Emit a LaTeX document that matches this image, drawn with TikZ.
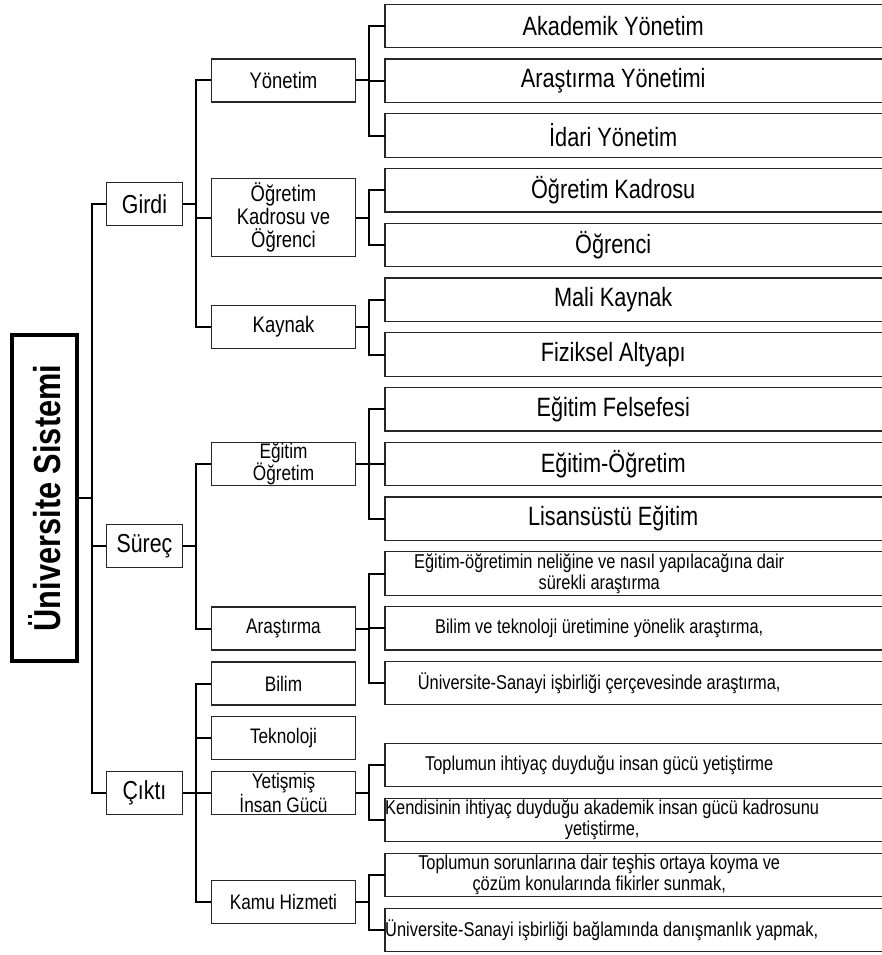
\documentclass[tikz,border=0pt]{standalone}
\usepackage{graphicx}
\usepackage{fontspec}
\setmainfont[FakeStretch=0.82]{Liberation Sans}
\usepackage{tikz}

\tikzset{
boxline/.style={draw=black!85,line width=1.2pt},
link/.style={draw=black,line width=2pt}
}

\begin{document}
\begin{tikzpicture}
[x=1pt,y=-1pt,
every node/.style={inner sep=0pt,align=center},
sysbox/.style={draw,line width=4pt,minimum width=65pt,minimum height=326pt,font=\fontsize{37.5}{40}\selectfont\bfseries},
stagebox/.style={boxline,minimum width=76pt,minimum height=43pt,font=\fontsize{26}{28}\selectfont},
partbox/.style={boxline,minimum width=144pt,minimum height=43pt,font=\fontsize{21}{22}\selectfont},
bigpart/.style={partbox,font=\fontsize{22.5}{23}\selectfont},
itembox/.style={anchor=west,minimum width=456pt,minimum height=43pt,font=\fontsize{26.5}{28}\selectfont},
notebox/.style={anchor=west,minimum width=428pt,minimum height=43pt,font=\fontsize{20}{21}\selectfont}]
\useasboundingbox (0,0) rectangle (881,955);
% root
\node [sysbox] (sys) at (44.5,498) {\rotatebox{90}{Üniversite Sistemi}};
% stages
\node [stagebox] (girdi) at (144.5,204) {Girdi};
\node [stagebox] (surec) at (144.5,546) {Süreç};
\node [stagebox] (cikti) at (144.5,793) {Çıktı};
% parts
\node [bigpart] (yonetim) at (283.5,80.5) {Yönetim};
\node [bigpart,minimum height=78pt] (kadro) at (283.5,217.5) {Öğretim\\Kadrosu ve\\Öğrenci};
\node [bigpart] (kaynak) at (283.5,327) {Kaynak};
\node [partbox] (egitim) at (283.5,464) {Eğitim\\Öğretim};
\node [partbox] (arastirma) at (283.5,628.5) {Araştırma};
\node [partbox] (bilim) at (283.5,683.5) {Bilim};
\node [partbox] (teknoloji) at (283.5,738) {Teknoloji};
\node [partbox] (insangucu) at (283.5,793) {Yetişmiş\\İnsan Gücü};
\node [partbox] (kamu) at (283.5,902) {Kamu Hizmeti};
% items
\node [itembox] (akademik) at (385,26) {Akademik Yönetim};
\node [itembox] (aryonetim) at (385,80.75) {Araştırma Yönetimi};
\node [itembox] (idari) at (385,135.5) {İdari Yönetim};
\node [itembox] (okadro) at (385,190.25) {Öğretim Kadrosu};
\node [itembox] (ogrenci) at (385,245) {Öğrenci};
\node [itembox] (mali) at (385,299.75) {Mali Kaynak};
\node [itembox] (fiziksel) at (385,354.5) {Fiziksel Altyapı};
\node [itembox] (felsefe) at (385,409.25) {Eğitim Felsefesi};
\node [itembox] (egogr) at (385,464) {Eğitim-Öğretim};
\node [itembox] (lisansustu) at (385,518.75) {Lisansüstü Eğitim};
\node [notebox] (nelik) at (385,573.5) {Eğitim-öğretimin neliğine ve nasıl yapılacağına dair\\sürekli araştırma};
\node [notebox] (bilimtek) at (385,628.25) {Bilim ve teknoloji üretimine yönelik araştırma,};
\node [notebox] (cerceve) at (385,683) {Üniversite-Sanayi işbirliği çerçevesinde araştırma,};
\node [notebox] (toplum) at (385,765) {Toplumun ihtiyaç duyduğu insan gücü yetiştirme};
\node [notebox] (akkadro) at (385,820) {Kendisinin ihtiyaç duyduğu akademik insan gücü kadrosunu\\yetiştirme,};
\node [notebox] (sorun) at (385,875) {Toplumun sorunlarına dair teşhis ortaya koyma ve\\çözüm konularında fikirler sunmak,};
\node [notebox] (danisman) at (385,930) {Üniversite-Sanayi işbirliği bağlamında danışmanlık yapmak,};
% item boxes run off the right edge
\coordinate (rim) at (890,0);
\foreach \n in {akademik,aryonetim,idari,okadro,ogrenci,mali,fiziksel,felsefe,egogr,lisansustu,nelik,bilimtek,cerceve,toplum,akkadro,sorun,danisman}
\draw [boxline] (\n.north west) rectangle (\n.south west -| rim);
% connectors
\foreach \p/\kids in {sys/{girdi,surec,cikti},
girdi/{yonetim,kadro,kaynak},surec/{egitim,arastirma},cikti/{bilim,teknoloji,insangucu,kamu},
yonetim/{akademik,aryonetim,idari},kadro/{okadro,ogrenci},kaynak/{mali,fiziksel},
egitim/{felsefe,egogr,lisansustu},arastirma/{nelik,bilimtek,cerceve},
insangucu/{toplum,akkadro},kamu/{sorun,danisman}}
\foreach \k in \kids
\draw [link] (\p.east) -- ++(13,0) |- (\k.west);
\end{tikzpicture}
\end{document}
